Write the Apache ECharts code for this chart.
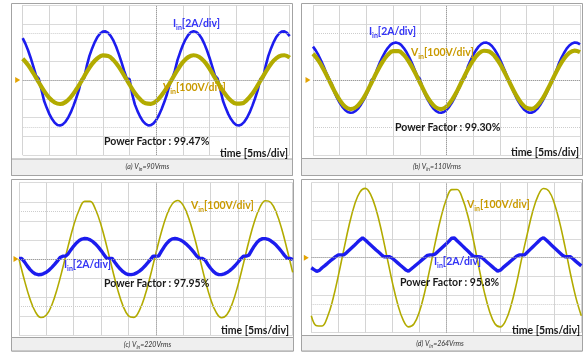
<!DOCTYPE html>
<html>
<head>
<meta charset="utf-8">
<style>
html,body{margin:0;padding:0;background:#fff;}
#c{width:586px;height:352px;}
</style>
<script src="https://cdn.jsdelivr.net/npm/echarts@6/dist/echarts.min.js"></script>
</head>
<body>
<div id="c"></div>
<script>
// sampling instants (ms), 5 ms per division, 10 divisions
const T_FINE = [0,0.5,1,1.5,2,2.5,3,3.5,4,4.5,5,5.5,6,6.5,7,7.5,8,8.5,9,9.5,10,10.5,11,11.5,12,12.5,13,13.5,14,14.5,15,15.5,16,16.5,17,17.5,18,18.5,19,19.5,20,20.5,21,21.5,22,22.5,23,23.5,24,24.5,25,25.5,26,26.5,27,27.5,28,28.5,29,29.5,30,30.5,31,31.5,32,32.5,33,33.5,34,34.5,35,35.5,36,36.5,37,37.5,38,38.5,39,39.5,40,40.5,41,41.5,42,42.5,43,43.5,44,44.5,45,45.5,46,46.5,47,47.5,48,48.5,49,49.5,50];
const T_COARSE = [0,1,2,3,4,5,6,7,8,9,10,11,12,13,14,15,16,17,18,19,20,21,22,23,24,25,26,27,28,29,30,31,32,33,34,35,36,37,38,39,40,41,42,43,44,45,46,47,48,49,50];

// input current (A)
const I_A = [4.46,3.88,3.17,2.35,1.43,0.48,0.15,-1.0,-2.21,-2.97,-3.64,-4.17,-4.56,-4.79,-4.85,-4.74,-4.46,-4.03,-3.46,-2.76,-1.97,-1.11,0.05,0.2,1.5,2.57,3.37,4.05,4.59,4.96,5.16,5.19,5.02,4.69,4.19,3.54,2.76,1.90,0.96,0.15,0.1,-1.5,-2.60,-3.32,-3.92,-4.38,-4.69,-4.84,-4.81,-4.62,-4.27,-3.76,-3.12,-2.38,-1.55,-0.5,0.15,1.0,2.14,2.98,3.73,4.34,4.80,5.09,5.20,5.13,4.88,4.46,3.88,3.17,2.35,1.43,0.48,0.15,-1.0,-2.21,-2.97,-3.64,-4.17,-4.56,-4.79,-4.85,-4.74,-4.46,-4.03,-3.46,-2.76,-1.97,-1.11,0.1,0.2,1.5,2.57,3.37,4.05,4.59,4.96,5.16,5.19,5.02,4.69];
const I_B = [3.56,3.16,2.67,2.08,1.43,0.73,0.15,-0.4,-1.31,-1.90,-2.43,-2.86,-3.19,-3.41,-3.50,-3.46,-3.29,-3.01,-2.61,-2.12,-1.55,-0.93,0.05,0.2,1.15,1.83,2.45,2.98,3.41,3.74,3.93,4.00,3.93,3.74,3.41,2.98,2.45,1.83,1.15,0.44,0.15,-0.8,-1.55,-2.12,-2.61,-3.01,-3.29,-3.46,-3.50,-3.41,-3.19,-2.86,-2.43,-1.90,-1.31,-0.67,0.1,0.3,1.43,2.08,2.67,3.16,3.56,3.83,3.98,3.99,3.87,3.62,3.25,2.78,2.21,1.56,0.87,0.15,-0.4,-1.18,-1.79,-2.33,-2.78,-3.14,-3.37,-3.49,-3.48,-3.34,-3.08,-2.70,-2.23,-1.67,-1.06,-0.40,0.15,0.9,1.70,2.33,2.88,3.34,3.68,3.90,4.00,3.96,3.79];
const I_C = [0.05,0.05,-0.30,-0.72,-1.09,-1.38,-1.57,-1.65,-1.63,-1.53,-1.38,-1.16,-0.88,-0.57,-0.22,0.15,0.3,0.3,0.56,0.98,1.36,1.68,1.93,2.09,2.15,2.12,2.00,1.82,1.56,1.24,0.88,0.48,0.07,0.07,0.07,-0.34,-0.72,-1.06,-1.33,-1.53,-1.63,-1.64,-1.58,-1.46,-1.27,-1.03,-0.74,-0.41,-0.06,0.3,0.3,0.3,0.79,1.25,1.64,1.94,2.11,2.15,2.10,1.99,1.82,1.59,1.32,1.00,0.66,0.29,0.07,0.07,-0.12,-0.57,-0.97,-1.30,-1.53,-1.64,-1.64,-1.56,-1.42,-1.22,-0.97,-0.68,-0.34,0.01,0.3,0.3,0.40,0.91,1.37,1.75,2.01,2.14,2.14,2.06,1.91,1.70,1.43,1.11,0.76,0.38,0.07,0.07,-0.05];
const I_D = [-1.07,-1.27,-1.45,-1.35,-1.07,-0.84,-0.60,-0.34,-0.13,0.11,0.3,0.3,0.3,0.52,0.79,1.06,1.33,1.61,1.88,2.12,1.89,1.62,1.36,1.10,0.83,0.57,0.31,0.1,0.1,0.1,-0.05,-0.30,-0.55,-0.80,-1.05,-1.30,-1.45,-1.21,-0.97,-0.72,-0.48,-0.23,0.01,0.25,0.3,0.3,0.41,0.68,0.95,1.22,1.49,1.77,2.08,2.10,1.81,1.54,1.26,0.98,0.71,0.43,0.16,0.1,0.1,0.05,-0.20,-0.45,-0.70,-0.95,-1.20,-1.43,-1.33,-1.06,-0.82,-0.58,-0.33,-0.09,0.15,0.3,0.3,0.3,0.58,0.86,1.14,1.42,1.70,1.98,2.14,1.88,1.61,1.34,1.07,0.80,0.53,0.26,0.1,0.1,0.1,-0.14,-0.39,-0.63,-0.87];

// input voltage (V)
const V_A = [113,80,36,-12,-58,-96,-120,-128,-118,-91,-52,-6,43,86,116,131,128,106,70,24,-24,-69,-103,-124,-127,-113,-82,-41,6,54,95,122,132,124,99,60,12,-36,-78,-110,-126,-125,-106,-73,-29,19,65,103,126,132,119];
const V_B = [140,105,56,0,-58,-107,-142,-155,-146,-116,-69,-12,45,96,134,154,154,134,96,45,-12,-69,-116,-146,-155,-142,-107,-58,0,56,105,140,156,152,128,87,34,-24,-79,-123,-149,-154,-136,-99,-47,11,67,113,145,157,149];
const V_C = [0,-112,-209,-277,-307,-294,-241,-154,-46,70,177,258,302,302,258,177,70,-47,-158,-246,-298,-306,-269,-193,-88,29,140,231,289,307,281,215,119,6,-110,-210,-279,-308,-291,-231,-137,-24,93,195,270,305,296,244,157,47,-70];
const V_D = [-310,-363,-364,-315,-222,-97,40,173,281,350,370,337,257,142,6,-130,-248,-332,-369,-354,-290,-184,-53,87,213,310,363,364,315,222,97,-46,-178,-285,-352,-369,-335,-254,-137,0,127,246,331,369,355,291,187,56,-87,-213,-310];

const PANEL_IDS = ['(a)','(b)','(c)','(d)'];
const VRMS = ['90Vrms','110Vrms','220Vrms','264Vrms'];
const PF_TEXT = ['99.47%','99.30%','97.95%','95.8%'];
const I_SCALE = '[2A/div]';
const V_SCALE = '[100V/div]';
const TIME_TEXT = 'time [5ms/div]';

const CURRENTS = [I_A, I_B, I_C, I_D];
const VOLTAGES = [V_A, V_B, V_C, V_D];

// layout
const GRIDS = [
  {left:22.7, top:5, width:267, height:150},
  {left:313, top:5, width:267, height:150},
  {left:19, top:182.7, width:273.7, height:152.6},
  {left:311.3, top:182.7, width:270, height:150}
];
const FRAMES = [
  {x:11.5, y:3.5, w:281, h:172, strip:159},
  {x:301.5, y:3.5, w:281, h:172, strip:158.5},
  {x:11.5, y:179.5, w:282, h:171.5, strip:337.5},
  {x:301.5, y:179.5, w:281, h:171.5, strip:335.5}
];
const LAYOUT = [
  {I:[173,24], V:[163,88], PF:[104,142], T:[288,154], cap:[147.5,167], top:'V'},
  {I:[369,32], V:[411,53], PF:[395,128], T:[579,153], cap:[437,167], top:'V'},
  {I:[64,265], V:[191,206], PF:[104,284], T:[289,331], cap:[147.5,345], top:'I'},
  {I:[434,262], V:[467,205], PF:[400,283], T:[580,331], cap:[440,344], top:'I'}
];

const BLUE = '#1c1cee';
const OLIVE = '#b2ab00';
const FONT = 'Lato, "DejaVu Sans", sans-serif';

const xAxes = [], yAxes = [], series = [], graphics = [];

FRAMES.forEach(f => {
  graphics.push({type:'rect', z:-10, shape:{x:f.x, y:f.y, width:f.w, height:f.h},
    style:{fill:'#ffffff', stroke:'#a3a3a3', lineWidth:1}});
  graphics.push({type:'rect', z:-9, shape:{x:f.x, y:f.strip, width:f.w, height:f.y + f.h - f.strip},
    style:{fill:'#efefef', stroke:'#a3a3a3', lineWidth:1}});
});

function subText(x, y, main, sub, rest, color, size, align, weight, style) {
  return {type:'text', z:100, x:x, y:y,
    style:{
      text:'{m|' + main + '}{s|' + sub + '}{m|' + rest + '}',
      align:align, textAlign:align, verticalAlign:'middle', textVerticalAlign:'middle',
      rich:{
        m:{fontFamily:FONT, fontWeight:weight, fontStyle:style, fontSize:size, fill:color, lineHeight:size + 3},
        s:{fontFamily:FONT, fontWeight:weight, fontStyle:style, fontSize:Math.round(size * 0.65), fill:color,
           lineHeight:Math.round(size * 0.6), verticalAlign:'bottom'}
      }
    }};
}
function plainText(x, y, txt, size, align) {
  return {type:'text', z:100, x:x, y:y,
    style:{text:txt, font:'bold ' + size + 'px ' + FONT, fill:'#1a1a1a',
      align:align, textAlign:align, verticalAlign:'middle', textVerticalAlign:'middle'}};
}

GRIDS.forEach((g, i) => {
  xAxes.push({gridIndex:i, type:'value', min:0, max:50, interval:5,
    axisLine:{show:false}, axisTick:{show:false}, axisLabel:{show:false},
    splitLine:{show:true, showMinLine:true, showMaxLine:true, lineStyle:{color:'#d4d4d4', width:1}}});
  yAxes.push({gridIndex:i, type:'value', min:-8, max:8, interval:2,
    axisLine:{show:false}, axisTick:{show:false}, axisLabel:{show:false},
    splitLine:{show:true, showMinLine:true, showMaxLine:true, lineStyle:{color:'#dadada', width:1}}});
  yAxes.push({gridIndex:i, type:'value', min:-400, max:400, interval:100, show:false,
    splitLine:{show:false}});

  // reference lines and ground marker
  series.push({type:'line', xAxisIndex:i, yAxisIndex:2 * i, data:[], silent:true, z:1,
    markLine:{silent:true, symbol:['none','none'], animation:false, label:{show:false},
      lineStyle:{type:'dotted', color:'#9c9c9c', width:1},
      data:[{yAxis:0}, {xAxis:25},
        {yAxis:5, lineStyle:{type:'dotted', color:'#cdcdcd', width:1}},
        {yAxis:-5, lineStyle:{type:'dotted', color:'#cdcdcd', width:1}}]},
    markPoint:{silent:true, symbol:'triangle', symbolSize:[6,5], symbolRotate:-90,
      symbolOffset:[i === 2 ? -3 : -5, 0], itemStyle:{color:'#e3a300'}, label:{show:false},
      animation:false, data:[{coord:[0,0]}]}});

  const heavy = i >= 2;
  const cur = {type:'line', xAxisIndex:i, yAxisIndex:2 * i, showSymbol:false, smooth:false,
    data:T_FINE.map((t, k) => [t, CURRENTS[i][k]]),
    lineStyle:{color:BLUE, width:heavy ? 3.4 : 2.6}, itemStyle:{color:BLUE}};
  const vol = {type:'line', xAxisIndex:i, yAxisIndex:2 * i + 1, showSymbol:false, smooth:0.4,
    data:T_COARSE.map((t, k) => [t, VOLTAGES[i][k]]),
    lineStyle:{color:OLIVE, width:heavy ? 1.6 : 4.2}, itemStyle:{color:OLIVE}};
  if (LAYOUT[i].top === 'V') { series.push(cur, vol); } else { series.push(vol, cur); }

  const L = LAYOUT[i];
  graphics.push(subText(L.I[0], L.I[1], 'I', 'in', I_SCALE, '#3434f5', 10.5, 'left', 'bold', 'normal'));
  graphics.push(subText(L.V[0], L.V[1], 'V', 'in', V_SCALE, '#c99a00', 10.5, 'left', 'bold', 'normal'));
  graphics.push(plainText(L.PF[0], L.PF[1], 'Power Factor : ' + PF_TEXT[i], 10.5, 'left'));
  graphics.push(plainText(L.T[0], L.T[1], TIME_TEXT, 10.5, 'right'));
  graphics.push(subText(L.cap[0], L.cap[1], PANEL_IDS[i] + ' V', 'in', '=' + VRMS[i], '#333333', 7, 'center', 'normal', 'italic'));
});

const chart = echarts.init(document.getElementById('c'), null, {renderer:'canvas'});
chart.setOption({
  animation:false,
  backgroundColor:'#ffffff',
  grid:GRIDS.map(g => Object.assign({containLabel:false}, g)),
  xAxis:xAxes,
  yAxis:yAxes,
  series:series,
  graphic:{elements:graphics}
});
</script>
</body>
</html>
